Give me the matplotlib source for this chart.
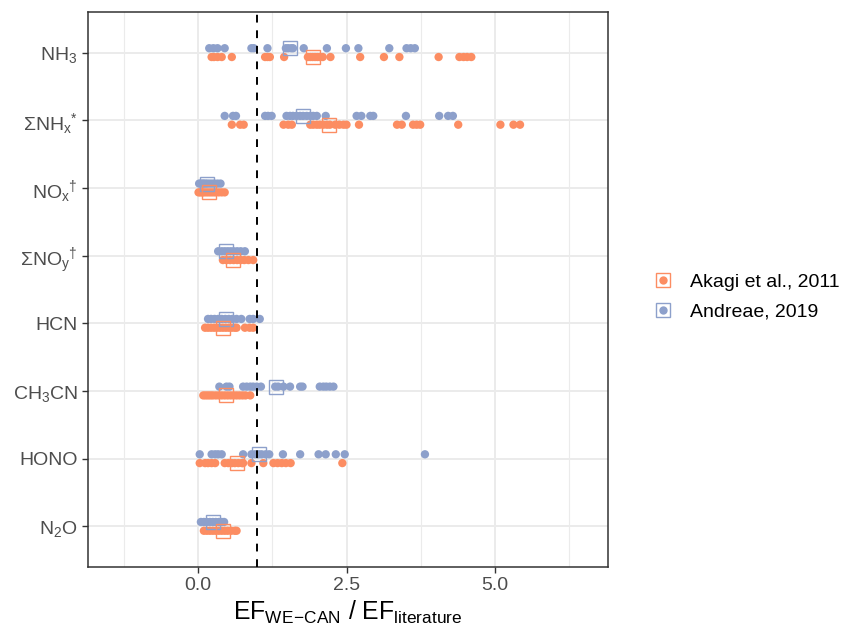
import numpy as np
import matplotlib
matplotlib.use("Agg")
import matplotlib.pyplot as plt
from matplotlib.lines import Line2D
from matplotlib.legend_handler import HandlerTuple

plt.rcParams['font.family'] = ['Liberation Sans', 'DejaVu Sans']
plt.rcParams['mathtext.fontset'] = 'custom'
plt.rcParams['mathtext.rm'] = 'Liberation Sans'
plt.rcParams['mathtext.it'] = 'Liberation Sans'

# species, top to bottom
species = [r"NH$_3$", r"ΣNH$_x$$^{*}$", r"NO$_x$$^{\dagger}$", r"ΣNO$_y$$^{\dagger}$",
           "HCN", r"CH$_3$CN", "HONO", r"N$_2$O"]

# ratios vs Akagi et al., 2011
akagi = [
    [0.23, 0.27, 0.33, 0.40, 0.57, 1.13, 1.17, 1.21, 1.45, 1.85, 1.89, 1.93, 1.97, 2.01,
     2.05, 2.10, 2.23, 2.73, 3.13, 3.39, 4.05, 4.40, 4.47, 4.53, 4.60],
    [0.57, 0.71, 0.77, 1.44, 1.52, 1.58, 1.89, 1.94, 2.00, 2.05, 2.11, 2.17, 2.22, 2.31,
     2.38, 2.45, 2.50, 2.71, 3.35, 3.43, 3.62, 3.68, 3.74, 4.38, 5.09, 5.31, 5.42],
    [0.01, 0.04, 0.07, 0.10, 0.14, 0.18, 0.22, 0.26, 0.30, 0.35, 0.40, 0.45],
    [0.42, 0.48, 0.54, 0.60, 0.66, 0.72, 0.78, 0.85, 0.93],
    [0.12, 0.17, 0.22, 0.27, 0.32, 0.37, 0.42, 0.47, 0.52, 0.57, 0.62, 0.65, 0.79, 0.87, 0.93],
    [0.09, 0.13, 0.17, 0.21, 0.25, 0.30, 0.35, 0.40, 0.45, 0.50, 0.55, 0.60, 0.65, 0.70,
     0.75, 0.80, 0.88],
    [0.03, 0.12, 0.17, 0.23, 0.29, 0.45, 0.51, 0.57, 0.62, 0.68, 0.74, 0.76, 0.90, 1.10,
     1.27, 1.34, 1.41, 1.48, 1.56, 2.43],
    [0.10, 0.15, 0.20, 0.25, 0.30, 0.35, 0.40, 0.45, 0.50, 0.56, 0.62, 0.65],
]
akagi_box = [1.94, 2.20, 0.19, 0.59, 0.42, 0.47, 0.65, 0.42]

# ratios vs Andreae, 2019
andreae = [
    [0.19, 0.26, 0.33, 0.45, 0.90, 0.94, 1.17, 1.48, 1.52, 1.57, 1.60, 1.78, 2.17, 2.49,
     2.70, 3.22, 3.51, 3.58, 3.65],
    [0.45, 0.59, 0.64, 1.13, 1.18, 1.24, 1.49, 1.55, 1.60, 1.66, 1.72, 1.77, 1.83, 1.89,
     1.94, 2.00, 2.15, 2.67, 2.75, 2.90, 2.95, 3.50, 4.06, 4.21, 4.29],
    [0.02, 0.05, 0.08, 0.10, 0.13, 0.16, 0.20, 0.24, 0.28, 0.33, 0.38],
    [0.34, 0.40, 0.45, 0.50, 0.55, 0.60, 0.66, 0.72, 0.79],
    [0.17, 0.22, 0.28, 0.34, 0.40, 0.46, 0.52, 0.58, 0.65, 0.73, 0.87, 0.93, 1.04],
    [0.36, 0.48, 0.53, 0.76, 0.82, 0.88, 0.93, 0.99, 1.06, 1.30, 1.35, 1.44, 1.55, 1.72,
     1.76, 2.05, 2.11, 2.16, 2.22, 2.28],
    [0.03, 0.23, 0.29, 0.34, 0.40, 0.76, 0.90, 0.96, 1.02, 1.07, 1.14, 1.20, 1.43, 1.72,
     2.03, 2.15, 2.32, 2.47, 3.82],
    [0.05, 0.10, 0.15, 0.20, 0.25, 0.30, 0.35, 0.40, 0.44],
]
andreae_box = [1.55, 1.76, 0.15, 0.48, 0.47, 1.31, 1.03, 0.26]

orange = "#FC8D62"
blue = "#8DA0CB"
dodge = 0.065

fig = plt.figure(figsize=(8.43, 6.29), dpi=100)
ax = fig.add_axes([0.1044, 0.0986, 0.6168, 0.8823])

for i in range(len(species)):
    ax.scatter(andreae[i], np.full(len(andreae[i]), i - dodge), s=36, color=blue,
               edgecolors='none', zorder=3)
    ax.scatter(akagi[i], np.full(len(akagi[i]), i + dodge), s=36, color=orange,
               edgecolors='none', zorder=3)
    ax.plot(andreae_box[i], i - dodge, marker='s', ms=9.5, mfc='none', mec=blue,
            mew=1.0, zorder=4)
    ax.plot(akagi_box[i], i + dodge, marker='s', ms=9.5, mfc='none', mec=orange,
            mew=1.0, zorder=4)

ax.axvline(1, color='black', ls=(0, (4, 4)), lw=1.4, zorder=5)

ax.set_xlim(-1.85, 6.9)
ax.set_ylim(7.6, -0.6)
ax.set_xticks([0, 2.5, 5.0])
ax.set_xticklabels(["0.0", "2.5", "5.0"])
ax.set_xticks([-1.25, 1.25, 3.75, 6.25], minor=True)
ax.set_yticks(range(len(species)))
ax.set_yticklabels(species)
ax.tick_params(axis='both', which='major', labelsize=14, colors='#4D4D4D',
               length=4.5, width=1, color='#333333', pad=3)
ax.tick_params(axis='x', which='minor', length=0)
ax.grid(True, which='major', color='#EBEBEB', lw=1.4, zorder=0)
ax.grid(True, which='minor', axis='x', color='#EBEBEB', lw=0.8, zorder=0)
ax.set_axisbelow(True)
for sp in ax.spines.values():
    sp.set_color('#333333')
    sp.set_linewidth(1.1)

ax.set_xlabel(r"EF$_{\mathrm{WE\!-\!CAN}}$ / EF$_{\mathrm{literature}}$", fontsize=17.8,
              labelpad=3)

h1 = (Line2D([], [], ls='none', marker='s', ms=10, mfc='none', mec=orange, mew=1.0),
      Line2D([], [], ls='none', marker='o', ms=6, color=orange, mec='none'))
h2 = (Line2D([], [], ls='none', marker='s', ms=10, mfc='none', mec=blue, mew=1.0),
      Line2D([], [], ls='none', marker='o', ms=6, color=blue, mec='none'))
fig.legend([h1, h2], ["Akagi et al., 2011", "Andreae, 2019"],
           handler_map={tuple: HandlerTuple(ndivide=1)},
           loc='center left', bbox_to_anchor=(0.754, 0.528), frameon=False,
           fontsize=14, handlelength=1.0, handletextpad=0.9, labelspacing=0.6)

fig.savefig("out.png", dpi=100)
